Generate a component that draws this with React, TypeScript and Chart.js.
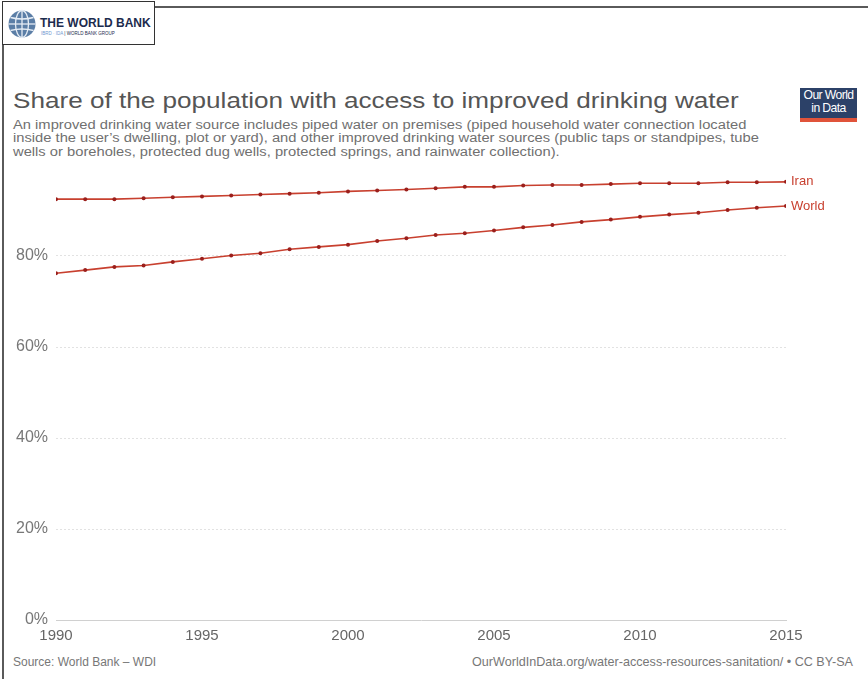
import React, { useEffect, useRef } from "react";
import { Chart, registerables } from "chart.js";

Chart.register(...registerables);

// ---- data ----
const years = [
  1990, 1991, 1992, 1993, 1994, 1995, 1996, 1997, 1998, 1999, 2000, 2001, 2002,
  2003, 2004, 2005, 2006, 2007, 2008, 2009, 2010, 2011, 2012, 2013, 2014, 2015,
];
const iranValues = [
  92.5, 92.5, 92.5, 92.7, 92.9, 93.1, 93.3, 93.5, 93.7, 93.9, 94.2, 94.4, 94.6,
  94.9, 95.2, 95.2, 95.5, 95.6, 95.6, 95.8, 96.0, 96.0, 96.0, 96.2, 96.2, 96.3,
];
const worldValues = [
  76.2, 76.9, 77.6, 77.9, 78.7, 79.4, 80.1, 80.6, 81.5, 82.0, 82.5, 83.3, 83.9,
  84.6, 85.0, 85.6, 86.3, 86.8, 87.5, 88.0, 88.6, 89.1, 89.5, 90.1, 90.6, 91.0,
];
const seriesNames = ["Iran", "World"];
const yTickValues = [0, 20, 40, 60, 80];
const xTickStep = 5;

const LINE_COLOR = "#c8402f";
const POINT_COLOR = "#9a1f1c";
const FONT = '"Liberation Sans", Arial, Helvetica, sans-serif';

const endLabelPlugin = {
  id: "endLabels",
  afterDatasetsDraw(chart: any) {
    const ctx = chart.ctx;
    ctx.save();
    ctx.font = `13px ${FONT}`;
    ctx.fillStyle = LINE_COLOR;
    ctx.textAlign = "left";
    ctx.textBaseline = "middle";
    chart.data.datasets.forEach((ds: any, i: number) => {
      const meta = chart.getDatasetMeta(i);
      const pt = meta.data[meta.data.length - 1];
      if (pt) ctx.fillText(ds.label, pt.x + 5, pt.y);
    });
    ctx.restore();
  },
};

function WaterChart() {
  const ref = useRef<HTMLCanvasElement | null>(null);
  useEffect(() => {
    if (!ref.current) return;
    const mk = (vals: number[]) => years.map((y, i) => ({ x: y, y: vals[i] }));
    const chart = new Chart(ref.current, {
      type: "line",
      data: {
        datasets: [
          {
            label: seriesNames[0],
            data: mk(iranValues),
            borderColor: LINE_COLOR,
            borderWidth: 1.6,
            pointRadius: 2,
            pointBackgroundColor: POINT_COLOR,
            pointBorderWidth: 0,
            tension: 0,
          },
          {
            label: seriesNames[1],
            data: mk(worldValues),
            borderColor: LINE_COLOR,
            borderWidth: 1.6,
            pointRadius: 2,
            pointBackgroundColor: POINT_COLOR,
            pointBorderWidth: 0,
            tension: 0,
          },
        ],
      },
      options: {
        animation: false,
        responsive: false,
        layout: { padding: { left: 16, right: 82, top: 10, bottom: 0 } },
        plugins: { legend: { display: false }, tooltip: { enabled: false } },
        scales: {
          x: {
            type: "linear",
            min: years[0],
            max: years[years.length - 1],
            grid: { display: false, drawTicks: false },
            border: { display: true, color: "#d0d0d0", width: 1 },
            ticks: {
              stepSize: xTickStep,
              padding: 7,
              color: "#666",
              font: { family: FONT, size: 15 },
              callback: (v: any) => String(v),
              maxRotation: 0,
            },
            afterFit: (s: any) => {
              s.height = 25;
            },
          },
          y: {
            min: 0,
            max: 100,
            afterBuildTicks: (axis: any) => {
              axis.ticks = yTickValues.map((v) => ({ value: v }));
            },
            grid: {
              drawTicks: false,
              color: (c: any) =>
                c.tick && c.tick.value === 0 ? "rgba(0,0,0,0)" : "#e2e2e2",
            },
            border: { display: false, dash: [2, 2] },
            ticks: {
              crossAlign: "far",
              padding: 0,
              color: "#777",
              font: { family: FONT, size: 16 },
              callback: (v: any) => (v === 0 ? "  0%" : v + "%"),
            },
            afterFit: (s: any) => {
              s.width = 40;
            },
          },
        },
      },
      plugins: [endLabelPlugin],
    } as any);
    return () => chart.destroy();
  }, []);
  return <canvas ref={ref} width={868} height={490} style={{ display: "block" }} />;
}

export default function App() {
  const subtitleLines = [
    "An improved drinking water source includes piped water on premises (piped household water connection located",
    "inside the user\u2019s dwelling, plot or yard), and other improved drinking water sources (public taps or standpipes, tube",
    "wells or boreholes, protected dug wells, protected springs, and rainwater collection).",
  ];
  return (
    <div
      style={{
        position: "absolute",
        left: 0,
        top: 0,
        width: 868,
        height: 679,
        background: "#fff",
        overflow: "hidden",
        fontFamily: FONT,
      }}
    >
      {/* frame */}
      <div
        style={{
          position: "absolute",
          left: 2,
          top: 6,
          width: 900,
          height: 700,
          borderTop: "2px solid #5a5a5a",
          borderLeft: "2px solid #5a5a5a",
        }}
      />
      {/* World Bank logo */}
      <div
        style={{
          position: "absolute",
          left: 2,
          top: 1,
          width: 151,
          height: 42,
          background: "#fff",
          border: "1px solid #333",
        }}
      >
        <svg
          width="30"
          height="30"
          viewBox="0 0 30 30"
          style={{ position: "absolute", left: 4, top: 7 }}
        >
          <circle cx="15" cy="15" r="13.5" fill="#5b7ea6" />
          <ellipse cx="15" cy="15" rx="6.5" ry="13.5" fill="none" stroke="#e6edf5" strokeWidth="1.3" />
          <line x1="15" y1="1.5" x2="15" y2="28.5" stroke="#e6edf5" strokeWidth="1.3" />
          <line x1="1.5" y1="15" x2="28.5" y2="15" stroke="#e6edf5" strokeWidth="1.3" />
          <path d="M3.5 8.5 Q15 11.5 26.5 8.5" fill="none" stroke="#e6edf5" strokeWidth="1.3" />
          <path d="M3.5 21.5 Q15 18.5 26.5 21.5" fill="none" stroke="#e6edf5" strokeWidth="1.3" />
        </svg>
        <div
          style={{
            position: "absolute",
            left: 37,
            top: 14,
            fontSize: 12,
            fontWeight: 700,
            color: "#1c2b4d",
            lineHeight: "14px",
            whiteSpace: "nowrap",
          }}
        >
          THE WORLD BANK
        </div>
        <div
          style={{
            position: "absolute",
            left: 38,
            top: 29,
            fontSize: 4.5,
            lineHeight: "6px",
            whiteSpace: "nowrap",
            color: "#1c2b4d",
          }}
        >
          <span style={{ color: "#6f98cf" }}>IBRD · IDA</span> | WORLD BANK GROUP
        </div>
      </div>
      {/* title */}
      <div
        style={{
          position: "absolute",
          left: 13,
          top: 90,
          fontSize: 22,
          lineHeight: "22px",
          color: "#555",
          whiteSpace: "nowrap",
          transform: "scaleX(1.187)",
          transformOrigin: "left top",
        }}
      >
        Share of the population with access to improved drinking water
      </div>
      {/* subtitle */}
      <div
        style={{
          position: "absolute",
          left: 13,
          top: 119,
          fontSize: 12,
          lineHeight: "13.4px",
          color: "#707070",
          whiteSpace: "nowrap",
          transform: "scaleX(1.227)",
          transformOrigin: "left top",
        }}
      >
        {subtitleLines.map((l, i) => (
          <div key={i}>{l}</div>
        ))}
      </div>
      {/* OWID logo */}
      <div
        style={{
          position: "absolute",
          left: 800,
          top: 88,
          width: 57,
          height: 34,
          background: "#2c4168",
          color: "#fff",
          textAlign: "center",
          fontSize: 12.2,
          lineHeight: "13px",
          boxSizing: "border-box",
          paddingTop: 1,
          letterSpacing: -0.6,
          whiteSpace: "nowrap",
        }}
      >
        <div>Our World</div>
        <div>in Data</div>
        <div
          style={{
            position: "absolute",
            left: 0,
            bottom: 0,
            width: 57,
            height: 4,
            background: "#e0533a",
          }}
        />
      </div>
      {/* chart */}
      <div style={{ position: "absolute", left: 0, top: 155, width: 868, height: 490 }}>
        <WaterChart />
      </div>
      {/* footer */}
      <div
        style={{
          position: "absolute",
          left: 13,
          top: 656,
          fontSize: 12,
          lineHeight: "12px",
          color: "#777",
          whiteSpace: "nowrap",
        }}
      >
        Source: World Bank – WDI
      </div>
      <div
        style={{
          position: "absolute",
          right: 15,
          top: 656,
          fontSize: 12.6,
          lineHeight: "12px",
          color: "#777",
          whiteSpace: "nowrap",
        }}
      >
        OurWorldInData.org/water-access-resources-sanitation/ • CC BY-SA
      </div>
    </div>
  );
}
